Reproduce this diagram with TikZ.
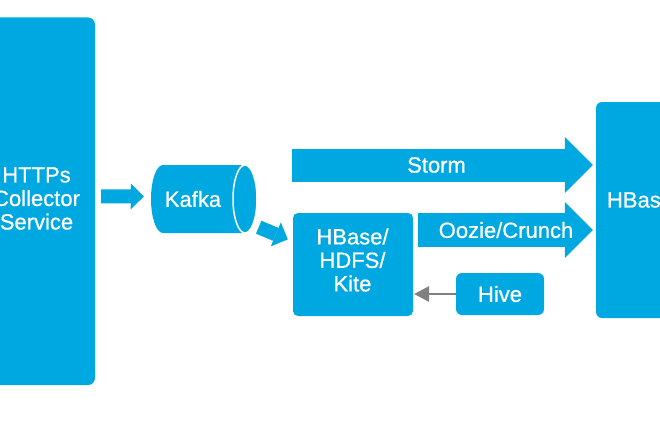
\documentclass[tikz,border=0pt]{standalone}
\usepackage{fontspec}
\setmainfont{Liberation Sans}
\newfontfamily\lblfont{Liberation Sans}[FakeBold=0.7]
\usetikzlibrary{arrows.meta}
\definecolor{cblue}{RGB}{0,168,225}
\definecolor{cgray}{RGB}{128,128,128}
\begin{document}
\begin{tikzpicture}[x=1pt,y=-1pt,
  box/.style={fill=cblue, rounded corners=6pt, inner sep=0pt},
  lbl/.style={text=white, font=\lblfont\fontsize{22}{23.5}\selectfont, align=center, inner sep=0pt},
  bigarrow/.style={draw=cblue, line width=33pt, -{Triangle[length=28pt,width=56pt,line width=0pt]}},
  smallarrow/.style={draw=cblue, line width=14pt, -{Triangle[length=13pt,width=26pt,line width=0pt]}},
  grayarrow/.style={draw=cgray, line width=2pt, -{Triangle[length=15pt,width=16pt,line width=0pt]}}
]
\useasboundingbox (0,0) rectangle (660,420);

% boxes
\node[box, rounded corners=7pt, minimum width=114pt, minimum height=367.5pt] (collector) at (38,201.25) {};
\node[lbl] (collectortext) at (36.5,198.5) {HTTPs\\Collector\\Service};

\node[box, rounded corners=5pt, minimum width=120pt, minimum height=103pt] (hdfs) at (353,264.5) {};
\node[lbl] (hdfstext) at (352.5,260) {HBase/\\HDFS/\\Kite};

\node[box, minimum width=88pt, minimum height=42pt] (hive) at (500,294) {};
\node[lbl] (hivetext) at (500,294) {Hive};

\node[box, minimum width=88pt, minimum height=216pt] (hbase) at (640,210) {};
\node[lbl] (hbasetext) at (640,200) {HBase};

% Kafka cylinder
\node[minimum width=106pt, minimum height=68pt, inner sep=0pt] (kafka) at (204,199) {};
\fill[cblue] (163,165) arc[start angle=270, end angle=90, x radius=12, y radius=34] -- (245,233) -- (245,165) -- cycle;
\filldraw[fill=cblue, draw=white, line width=1.5pt] (245,199) ellipse [x radius=12, y radius=34];
\node[lbl] (kafkatext) at (193,199) {Kafka};

% connectors
\coordinate (c1) at ([shift={(6,-5)}]collector.east);
\coordinate (c2) at ([shift={(-7,-2.5)}]kafka.west);
\draw[smallarrow] (c1) -- (c2);

\coordinate (d1) at ([shift={(1.5,-6)}]kafka.south east);
\coordinate (d2) at ([shift={(-5,26.6)}]hdfs.north west);
\draw[smallarrow] (d1) -- (d2);

\coordinate (s1) at (292,165);
\coordinate (s2) at ([xshift=-3pt]hbase.west |- s1);
\draw[bigarrow] (s1) -- (s2);
\node[lbl] (stormtext) at (436.5,165) {Storm};

\coordinate (o1) at ([xshift=5pt]hdfs.east |- 0,230);
\coordinate (o2) at ([xshift=-3pt]hbase.west |- o1);
\draw[bigarrow, line width=34pt] (o1) -- (o2);
\node[lbl] (oozietext) at (506,230) {Oozie/Crunch};

\draw[grayarrow] (hive.west) -- ([xshift=1pt]hdfs.east |- hive.west);
\end{tikzpicture}
\end{document}
